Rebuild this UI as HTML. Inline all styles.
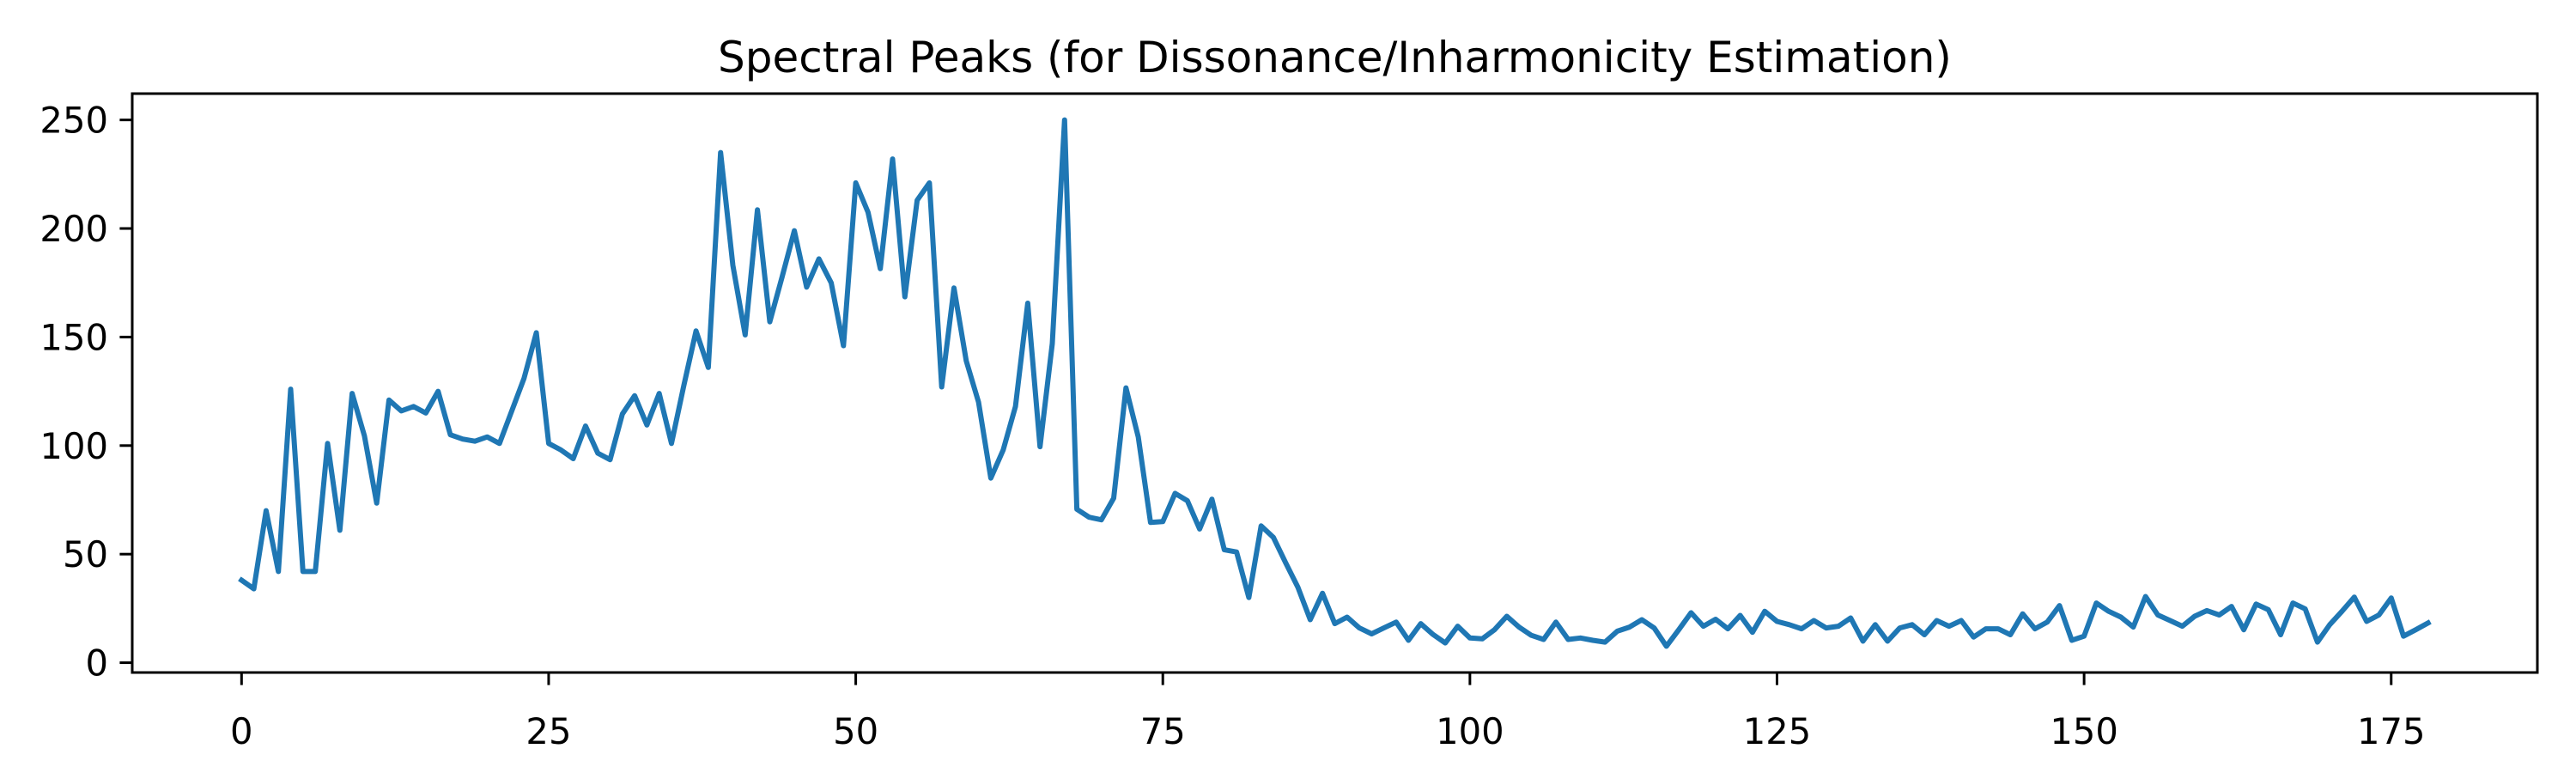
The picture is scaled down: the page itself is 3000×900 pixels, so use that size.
<!DOCTYPE html>
<html><head><meta charset="utf-8"><style>html,body{margin:0;padding:0;background:#fff}svg{display:block}</style></head>
<body>
<svg id="chart" width="3000" height="900" xmlns="http://www.w3.org/2000/svg" font-family="DejaVu Sans, Liberation Sans, sans-serif"></svg>
<script>
const values = [38,34,70,42,126,42,42,101,61,124,104.5,73.5,121,116,118,115,125,105,103,102,104,101,116,131,152,101,98,94,109,96.5,93.5,114.5,123,109.5,124,101,127.5,152.8,136,235,183,151,208.6,157,177.6,199,173,186,175,146,221,207.5,181.5,232,168.5,213,221,127,172.6,139,120,85,98,118,165.6,99.5,147,250,70.7,67,65.8,75.8,126.6,104,64.6,65,78,74.6,61.6,75.3,52,51,30,63,57.7,46,34.7,19.8,32,18,21,16,13.3,16,18.7,10.3,18,13,9.1,16.8,11.4,11,15.2,21.4,16.4,12.6,10.7,18.7,10.7,11.4,10.3,9.5,14.5,16.4,19.8,16,7.6,15.2,23,16.8,20,15.6,21.8,14,23.7,19,17.5,15.6,19.4,16,16.8,20.6,9.9,17.5,9.9,16,17.5,12.9,19.4,16.8,19.4,11.8,15.6,15.6,12.9,22.5,15.6,18.7,26.3,10.3,12.2,27.5,23.7,21,16.4,30.5,22,19.4,16.8,21.4,24,22,25.9,15.2,27,24.4,12.9,27.5,24.8,9.5,17.5,23.7,30.2,19,22,29.8,12.2,15.2,18.3];
const xTicks = [0,25,50,75,100,125,150,175];
const yTicks = [0,50,100,150,200,250];
const titleText = "Spectral Peaks (for Dissonance/Inharmonicity Estimation)";

const svg = document.getElementById('chart');
const NS = 'http://www.w3.org/2000/svg';
const L=154, R=2955, T=109, B=783;
const n = values.length;
const xmin = -0.05*(n-1), xmax = (n-1)*1.05;
const vmin = Math.min(...values), vmax = Math.max(...values), vr = vmax-vmin;
const ymin = vmin-0.05*vr, ymax = vmax+0.05*vr;
const xs = v => L + (v-xmin)/(xmax-xmin)*(R-L);
const ys = v => B - (v-ymin)/(ymax-ymin)*(B-T);
function mk(tag, attrs){const e=document.createElementNS(NS,tag);for(const k in attrs)e.setAttribute(k,attrs[k]);svg.appendChild(e);return e;}

const t = mk('text',{x:(L+R)/2,y:84,'text-anchor':'middle','font-size':50,fill:'#000'});


t.textContent = titleText;

xTicks.forEach(v=>{
  const x = xs(v);
  const tk = mk('line',{x1:x,x2:x,y1:B,y2:B+14.6,stroke:'#000','stroke-width':3});
  
  
  const lb = mk('text',{x:x,y:866,'text-anchor':'middle','font-size':41.7,fill:'#000'});
  
  
  lb.textContent = v;
});
yTicks.forEach(v=>{
  const y = ys(v);
  const tk = mk('line',{x1:L-14.6,x2:L,y1:y,y2:y,stroke:'#000','stroke-width':3});
  
  
  const lb = mk('text',{x:126,y:y+15,'text-anchor':'end','font-size':41.7,fill:'#000'});
  
  
  lb.textContent = v;
});

const pts = values.map((v,i)=>xs(i).toFixed(1)+','+ys(v).toFixed(1)).join(' ');
const line = mk('polyline',{points:pts,fill:'none',stroke:'#1f77b4','stroke-width':6,'stroke-linejoin':'round','stroke-linecap':'square'});



const fr = mk('rect',{x:L,y:T,width:R-L,height:B-T,fill:'none',stroke:'#000','stroke-width':3});


</script>
</body></html>
